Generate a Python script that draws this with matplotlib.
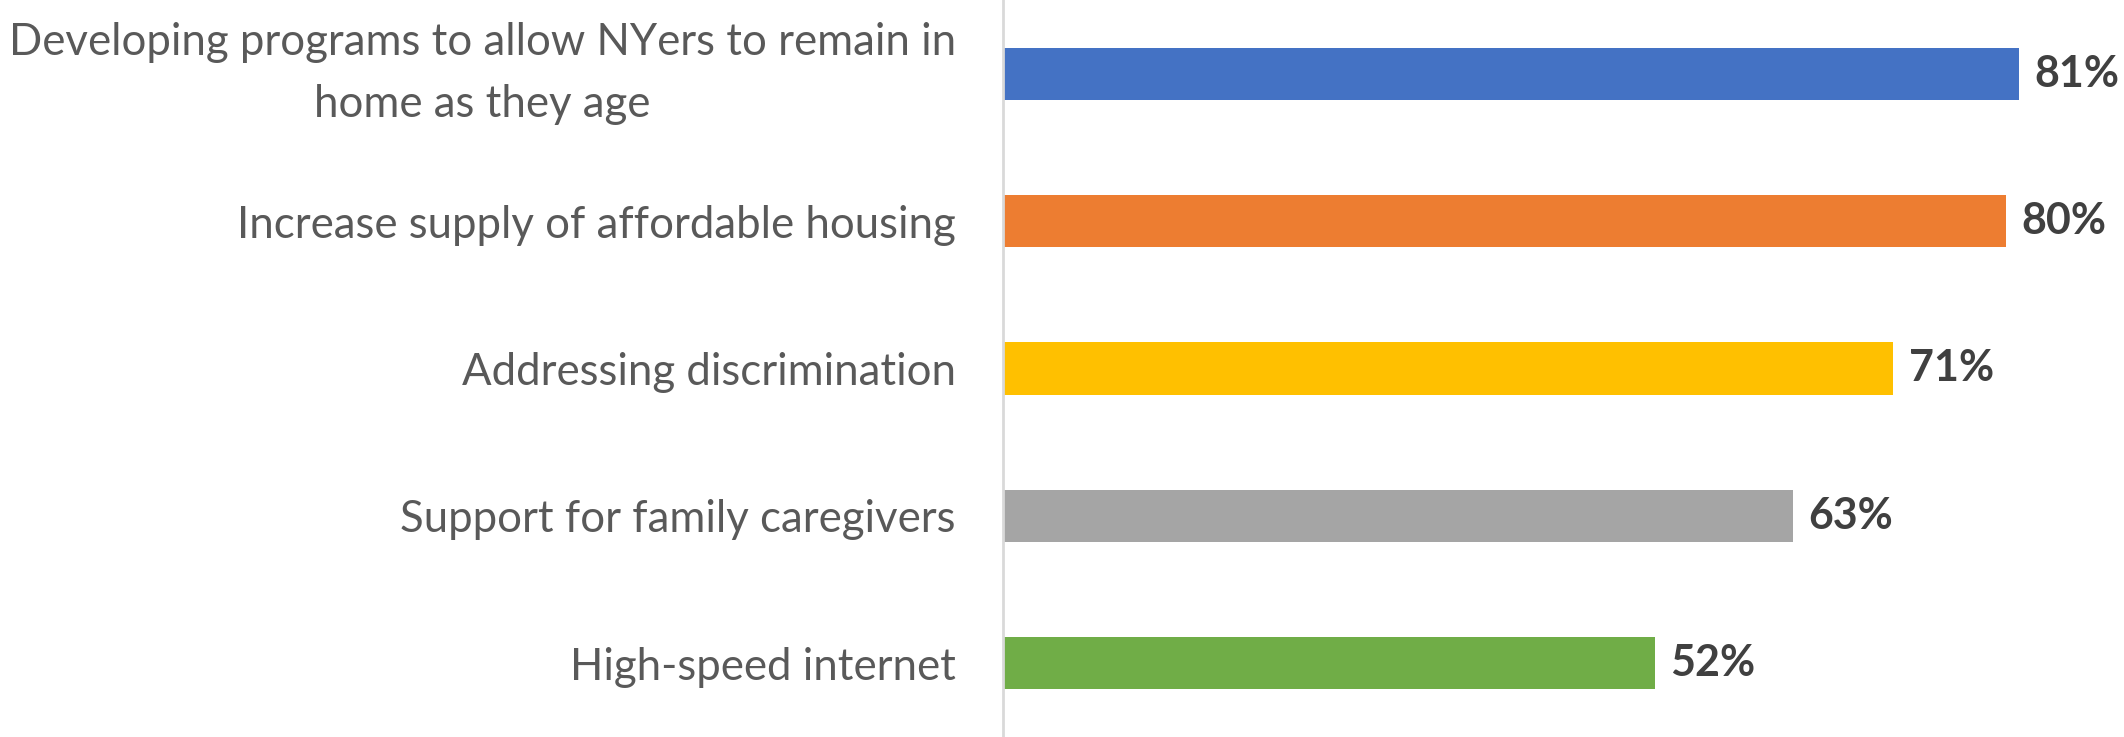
import matplotlib
matplotlib.use('Agg')
import matplotlib.pyplot as plt

categories = ['Developing programs to allow NYers to remain in\nhome as they age',
              'Increase supply of affordable housing',
              'Addressing discrimination',
              'Support for family caregivers',
              'High-speed internet']
values = [81, 80, 71, 63, 52]
colors = ['#4472C4', '#ED7D31', '#FFC000', '#A5A5A5', '#70AD47']

plt.rcParams['font.family'] = ['Lato', 'DejaVu Sans']

fig = plt.figure(figsize=(21.24, 7.37), dpi=100)
ax = fig.add_axes([1003 / 2124, 0, 1 - 1003 / 2124, 1])

y = range(len(categories))
ax.barh(y, values, height=0.353, color=colors)

for i, v in enumerate(values):
    ax.annotate(f'{v}%', xy=(v, i), xytext=(11, 0), textcoords='offset points',
                va='center', ha='left', fontsize=31, fontweight='bold', color='#404040')

ax.set_xlim(0, 89.4)
ax.set_ylim(4.5, -0.5)
ax.set_yticks(list(y))
ax.set_yticklabels(categories, fontsize=31.5, color='#595959', multialignment='center',
                   linespacing=1.65)
ax.tick_params(axis='y', length=0, pad=34)
ax.set_xticks([])

# two-line label: centre the block on its bar
ax.get_yticklabels()[0].set_va('center')

for side in ['top', 'right', 'bottom']:
    ax.spines[side].set_visible(False)
ax.spines['left'].set_color('#D9D9D9')
ax.spines['left'].set_linewidth(2)

fig.savefig('out.png', dpi=100)
